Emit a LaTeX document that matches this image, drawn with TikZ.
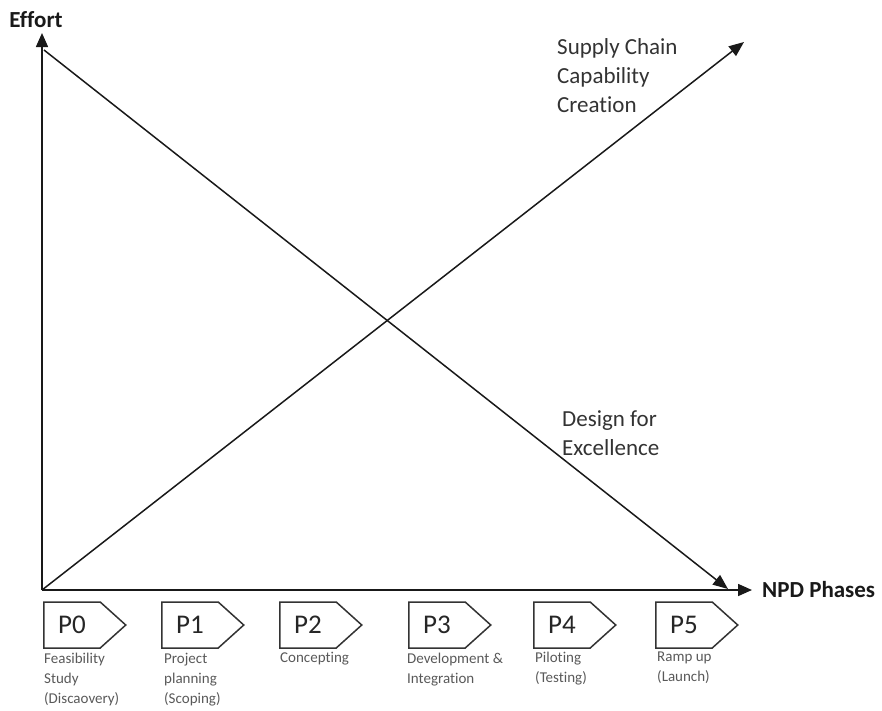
\documentclass[tikz,border=0pt]{standalone}
\usepackage{fontspec}
\setmainfont{Carlito}[Ligatures=NoCommon]
\usetikzlibrary{arrows.meta, shapes.symbols, positioning}

\begin{document}
\begin{tikzpicture}[
  x=1pt, y=-1pt,
  axis/.style={-{Triangle[length=14pt,width=12pt]}, line width=1.6pt, black!90},
  trend/.style={-{Triangle[length=15pt,width=12pt]}, line width=1.5pt, black!90},
  phase/.style={signal, signal to=east, signal pointer angle=84, draw=black!80,
    line width=1.5pt, minimum width=82pt, minimum height=46pt, inner sep=0pt,
    font=\fontsize{27}{30}\selectfont, text=black!85, anchor=west},
  desc/.style={anchor=north west, align=left, inner sep=0pt,
    font=\fontsize{15}{20}\selectfont, text=black!65},
  heading/.style={inner sep=0pt, font=\fontsize{23}{28}\selectfont\bfseries, text=black!90},
  caption/.style={anchor=north west, align=left, inner sep=0pt,
    font=\fontsize{23}{29}\selectfont, text=black!80}
]
\useasboundingbox (0,0) rectangle (882,710);

% Axes
\coordinate (O) at (42,590);
\coordinate (Ytip) at (42,33);
\coordinate (Xtip) at (752,590);
\draw[axis] (O) -- (Ytip);
\draw[axis] (O) -- (Xtip);
\node[heading, anchor=base] (effort) at (36,27) {Effort};
\node[heading, right=10pt of Xtip, anchor=west] (npd) {NPD Phases};

% Trends
\coordinate (Dstart) at (44,50);
\coordinate (Dtip) at (728,589);
\coordinate (Stip) at (744,42);
\draw[trend] (Dstart) -- (Dtip);
\draw[trend] (O) -- (Stip);
\node[caption] (supply) at (557,38) {Supply Chain\\Capability\\Creation};
\node[caption] (design) at (562,410) {Design for\\Excellence};

% Phases
\node[phase] (P0) at (43,625) {P0};
\node[phase] (P1) at (161,625) {P1};
\node[phase] (P2) at (279,625) {P2};
\node[phase] (P3) at (408,625) {P3};
\node[phase] (P4) at (533,625) {P4};
\node[phase] (P5) at (655,625) {P5};

% Phase descriptions
\node[desc] (D0) at (44,653) {Feasibility\\Study\\(Discaovery)};
\node[desc] (D1) at (164,653) {Project\\planning\\(Scoping)};
\node[desc] (D2) at (280,652) {Concepting};
\node[desc] (D3) at (407,653) {Development \&\\Integration};
\node[desc] (D4) at (535,652) {Piloting\\(Testing)};
\node[desc] (D5) at (657,652) {Ramp up\\(Launch)};

\end{tikzpicture}
\end{document}
